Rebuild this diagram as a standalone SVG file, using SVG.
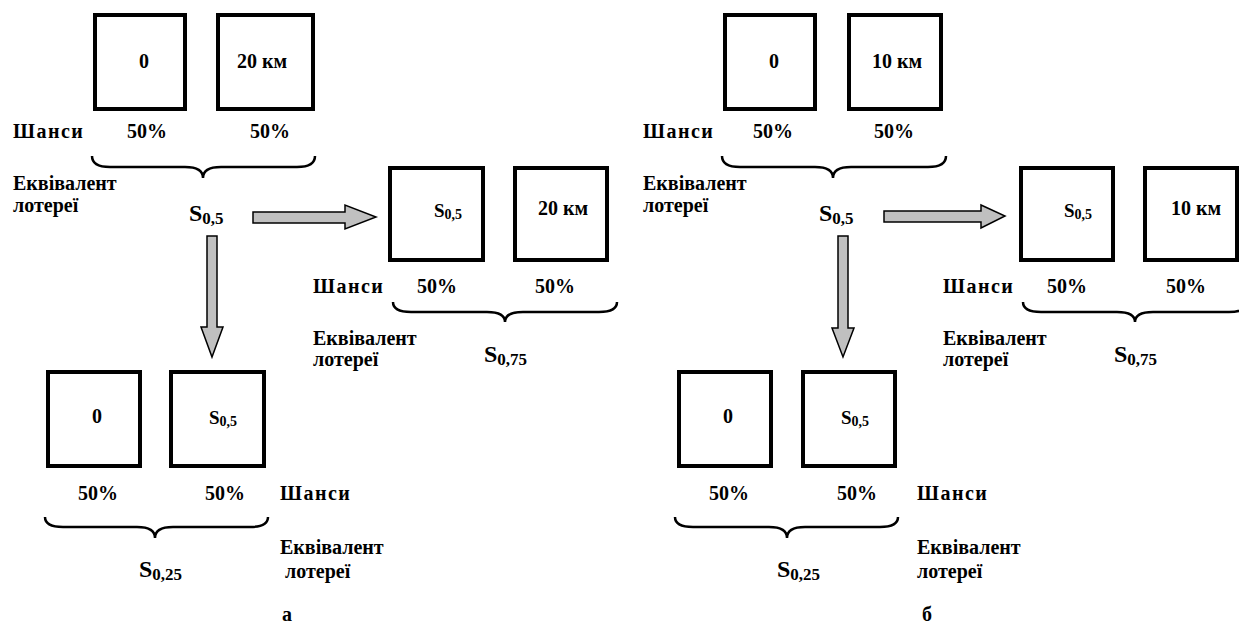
<svg xmlns="http://www.w3.org/2000/svg" width="1239" height="626" viewBox="0 0 1239 626">
<defs>
<style>
text{font-family:'Times New Roman','Liberation Serif',serif;font-weight:bold;fill:#000}
.t{font-size:20px}
.m{text-anchor:middle}
.bx{fill:#fff;stroke:#000;stroke-width:4}
.br{fill:none;stroke:#000;stroke-width:2.5}
.ar{fill:#c0c0c0;stroke:#000;stroke-width:1.5;stroke-linejoin:miter}
.S{font-size:24px}
.sub{font-size:17px}
.Si{font-size:19px}
.subi{font-size:14px}
.ls{letter-spacing:1.5px}
</style>
</defs>
<rect width="1239" height="626" fill="#fff"/>

<!-- ===== a ===== -->
<g id="a-top">
<rect class="bx" x="95" y="15" width="90" height="94"/>
<rect class="bx" x="218" y="15" width="95" height="94"/>
<text class="t m" x="144" y="68">0</text>
<text class="t m" x="262" y="68">20 км</text>
<text class="t ls" x="13" y="138">Шанси</text>
<text class="t m" x="147" y="138">50%</text>
<text class="t m" x="270" y="138">50%</text>
<path class="br" d="M92,156 Q92,167 110,167 L185,167 Q203,167 203,178 Q203,167 221,167 L297,167 Q315,167 315,156"/>
<text class="t" x="13" y="190">Еквівалент</text>
<text class="t" x="13" y="212">лотереї</text>
<text class="S" x="189" y="221">S<tspan class="sub" dy="3">0,5</tspan></text>
</g>

<g id="a-right">
<rect class="bx" x="390" y="168" width="93" height="92"/>
<rect class="bx" x="515" y="168" width="92" height="92"/>
<text class="Si" x="434" y="217">S<tspan class="subi" dy="2">0,5</tspan></text>
<text class="t m" x="563" y="215">20 км</text>
<text class="t ls" x="313" y="293">Шанси</text>
<text class="t m" x="437" y="293">50%</text>
<text class="t m" x="555" y="293">50%</text>
<path class="br" d="M393,302 Q393,312 411,312 L487,312 Q505,312 505,322 Q505,312 523,312 L599,312 Q617,312 617,302"/>
<text class="t" x="313" y="345">Еквівалент</text>
<text class="t" x="313" y="366">лотереї</text>
<text class="S" x="484" y="362">S<tspan class="sub" dy="3">0,75</tspan></text>
</g>

<g id="a-bottom">
<rect class="bx" x="48" y="372" width="92" height="94"/>
<rect class="bx" x="171" y="372" width="93" height="94"/>
<text class="t m" x="97" y="423">0</text>
<text class="Si" x="209" y="424">S<tspan class="subi" dy="2">0,5</tspan></text>
<text class="t m" x="98" y="500">50%</text>
<text class="t m" x="225" y="500">50%</text>
<text class="t ls" x="280" y="500">Шанси</text>
<path class="br" d="M45,517 Q45,527 63,527 L137,527 Q155,527 155,538 Q155,527 173,527 L250,527 Q268,527 268,517"/>
<text class="t" x="280" y="554">Еквівалент</text>
<text class="t" x="285" y="578">лотереї</text>
<text class="S" x="139" y="577">S<tspan class="sub" dy="3">0,25</tspan></text>
<text class="t" x="282" y="621">а</text>
</g>

<!-- ===== б ===== -->
<g id="b-top">
<rect class="bx" x="725" y="15" width="90" height="94"/>
<rect class="bx" x="849" y="15" width="92" height="94"/>
<text class="t m" x="774" y="68">0</text>
<text class="t m" x="897" y="68">10 км</text>
<text class="t ls" x="643" y="138">Шанси</text>
<text class="t m" x="773" y="138">50%</text>
<text class="t m" x="894" y="138">50%</text>
<path class="br" d="M722,156 Q722,167 740,167 L815,167 Q833,167 833,178 Q833,167 851,167 L928,167 Q946,167 946,156"/>
<text class="t" x="643" y="190">Еквівалент</text>
<text class="t" x="643" y="212">лотереї</text>
<text class="S" x="819" y="221">S<tspan class="sub" dy="3">0,5</tspan></text>
</g>

<g id="b-right">
<rect class="bx" x="1021" y="168" width="92" height="92"/>
<rect class="bx" x="1145" y="168" width="92" height="92"/>
<text class="Si" x="1064" y="217">S<tspan class="subi" dy="2">0,5</tspan></text>
<text class="t m" x="1196" y="215">10 км</text>
<text class="t ls" x="943" y="293">Шанси</text>
<text class="t m" x="1067" y="293">50%</text>
<text class="t m" x="1186" y="293">50%</text>
<path class="br" d="M1023,302 Q1023,312 1041,312 L1117,312 Q1135,312 1135,322 Q1135,312 1153,312 L1229,312 Q1247,312 1247,302"/>
<text class="t" x="943" y="345">Еквівалент</text>
<text class="t" x="943" y="366">лотереї</text>
<text class="S" x="1114" y="362">S<tspan class="sub" dy="3">0,75</tspan></text>
</g>

<g id="b-bottom">
<rect class="bx" x="679" y="372" width="92" height="94"/>
<rect class="bx" x="803" y="372" width="92" height="94"/>
<text class="t m" x="728" y="423">0</text>
<text class="Si" x="841" y="424">S<tspan class="subi" dy="2">0,5</tspan></text>
<text class="t m" x="729" y="500">50%</text>
<text class="t m" x="857" y="500">50%</text>
<text class="t ls" x="917" y="500">Шанси</text>
<path class="br" d="M675,517 Q675,527 693,527 L769,527 Q787,527 787,538 Q787,527 805,527 L880,527 Q898,527 898,517"/>
<text class="t" x="917" y="554">Еквівалент</text>
<text class="t" x="917" y="578">лотереї</text>
<text class="S" x="777" y="577">S<tspan class="sub" dy="3">0,25</tspan></text>
<text class="t" x="922" y="621">б</text>
</g>

<g id="connectors">
<polygon class="ar" points="253,212 345,212 345,205 376,217 345,229 345,223 253,223"/>
<polygon class="ar" points="207,236 217,236 217,327 223,327 212,357 201,327 207,327"/>
<polygon class="ar" points="884,211 981,211 981,205 1005,216 981,228 981,222 884,222"/>
<polygon class="ar" points="838,236 848,236 848,328 854,328 843,357 832,328 838,328"/>
</g>
</svg>
